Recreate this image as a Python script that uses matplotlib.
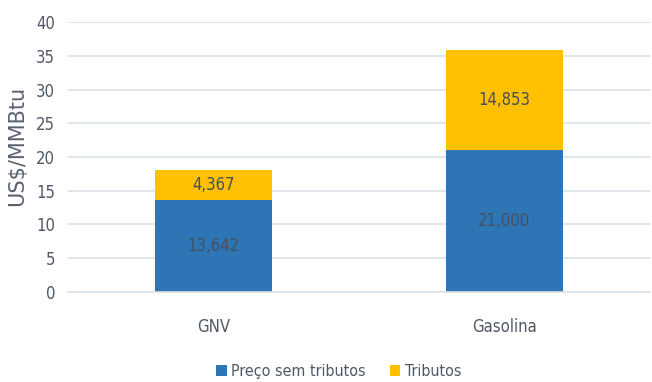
import matplotlib.pyplot as plt

# Dados do gráfico
combustiveis = ['GNV', 'Gasolina']
preco_sem_tributos = [13.642, 21.000]
tributos = [4.367, 14.853]
rotulos_preco = ['13,642', '21,000']
rotulos_tributos = ['4,367', '14,853']

plt.rcParams['font.family'] = ['DejaVu Sans']
plt.rcParams['font.stretch'] = 'condensed'

azul = '#2E75B6'
amarelo = '#FFC000'
cinza = '#4F5866'

fig = plt.figure(figsize=(6.52, 3.82), dpi=100)
ax = fig.add_axes([0.104, 0.236, 0.893, 0.706])

x = range(len(combustiveis))
b1 = ax.bar(x, preco_sem_tributos, width=0.4, color=azul, label='Preço sem tributos')
b2 = ax.bar(x, tributos, width=0.4, bottom=preco_sem_tributos, color=amarelo, label='Tributos')

for barra, txt in zip(b1, rotulos_preco):
    ax.text(barra.get_x() + barra.get_width() / 2, barra.get_y() + barra.get_height() / 2,
            txt, ha='center', va='center', fontsize=12, color='#44505E')
for barra, txt in zip(b2, rotulos_tributos):
    ax.text(barra.get_x() + barra.get_width() / 2, barra.get_y() + barra.get_height() / 2,
            txt, ha='center', va='center', fontsize=12, color='#44505E')

ax.set_xlim(-0.5, 1.5)
ax.set_ylim(0, 40)
ax.set_yticks(range(0, 41, 5))
ax.set_xticks(list(x))
ax.set_xticklabels(combustiveis)
ax.tick_params(axis='both', length=0, labelsize=12, colors=cinza)
ax.tick_params(axis='y', pad=9)
ax.tick_params(axis='x', pad=19)
ax.grid(axis='y', color='#DCE1E8', linewidth=1.2)
ax.set_axisbelow(True)
for lado in ['top', 'right', 'left']:
    ax.spines[lado].set_visible(False)
ax.spines['bottom'].set_color('#DCE1E8')
ax.spines['bottom'].set_linewidth(1.2)

ax.set_ylabel('US$/MMBtu', fontsize=15, color='#5A6270', fontstretch='normal')
ax.yaxis.set_label_coords(-0.07, 0.54)

fig.legend(loc='lower center', bbox_to_anchor=(0.52, -0.03), ncol=2, frameon=False,
           fontsize=11.5, labelcolor=cinza, handlelength=0.65, handleheight=0.65,
           handletextpad=0.3, columnspacing=1.5)

fig.savefig('out.png', dpi=100)
